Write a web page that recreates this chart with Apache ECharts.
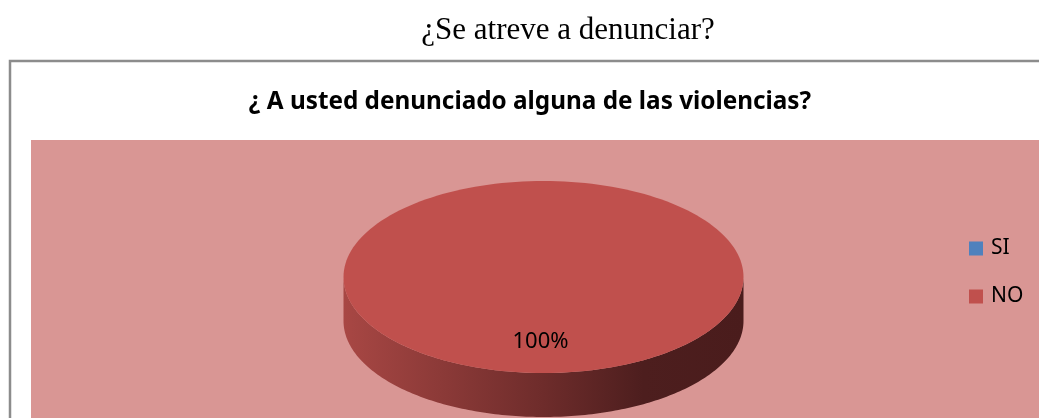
<!DOCTYPE html>
<html>
<head>
<meta charset="utf-8">
<script src="https://cdn.jsdelivr.net/npm/echarts@6/dist/echarts.min.js"></script>
<style>
  html, body { margin: 0; padding: 0; background: #fff; }
  #main { width: 1039px; height: 418px; }
</style>
</head>
<body>
<div id="main"></div>
<script>
var categories = ['SI', 'NO'];
var values = [0, 100];
var colors = ['#4F81BD', '#C0504D'];

var total = values.reduce(function (a, b) { return a + b; }, 0);

// pie geometry (screen space)
var cx = 543.5, cy = 277, rx = 200, ry = 96, depth = 44;

function pt(a, dy) {
  return [cx + rx * Math.sin(a), cy - ry * Math.cos(a) + (dy || 0)];
}

function renderSlice(idx) {
  return function (params, api) {
    var v = values[idx];
    if (!v) return null;
    var before = 0;
    for (var i = 0; i < idx; i++) before += values[i];
    var a0 = before / total * Math.PI * 2;
    var a1 = (before + v) / total * Math.PI * 2;
    var steps = 180, k;

    var top = [];
    if (a1 - a0 < Math.PI * 2 - 1e-6) top.push([cx, cy]);
    for (k = 0; k <= steps; k++) top.push(pt(a0 + (a1 - a0) * k / steps));

    // visible front band: angles between 90 and 270 deg
    var s = Math.max(a0, Math.PI / 2), e = Math.min(a1, Math.PI * 1.5);
    var children = [];
    if (e > s) {
      var band = [];
      for (k = 0; k <= steps; k++) band.push(pt(s + (e - s) * k / steps));
      for (k = steps; k >= 0; k--) band.push(pt(s + (e - s) * k / steps, depth));
      children.push({
        type: 'polygon',
        shape: { points: band },
        style: {
          fill: new echarts.graphic.LinearGradient(cx - rx, 0, cx + rx, 0, [
            { offset: 0, color: '#A84744' },
            { offset: 0.5, color: '#6E2C2B' },
            { offset: 0.75, color: '#4D1E1E' },
            { offset: 1, color: '#4A1C1C' }
          ], true)
        }
      });
    }
    children.push({
      type: 'polygon',
      shape: { points: top },
      style: { fill: colors[idx] }
    });
    var mid = (a0 + a1) / 2;
    var lp = [cx + rx * 0.67 * Math.sin(mid), cy - ry * 0.67 * Math.cos(mid)];
    children.push({
      type: 'text',
      style: {
        text: Math.round(v / total * 100) + '%',
        x: lp[0] - 3, y: lp[1],
        align: 'center', verticalAlign: 'middle',
        font: '22px "Noto Sans"', fill: '#000'
      }
    });
    return { type: 'group', children: children };
  };
}

var chart = echarts.init(document.getElementById('main'), null, { renderer: 'canvas' });

var option = {
  animation: false,
  color: colors,
  graphic: [
    { type: 'rect', shape: { x: 10, y: 61, width: 1040, height: 400 },
      style: { fill: '#fff', stroke: '#8C8C8C', lineWidth: 2.5 }, z: -10 },
    { type: 'rect', shape: { x: 31, y: 140, width: 1010, height: 290 },
      style: { fill: '#D99694' }, z: -9 },
    { type: 'text', style: { text: '¿Se atreve a denunciar?', x: 568, y: 31,
      align: 'center', verticalAlign: 'middle', font: '31px "Liberation Serif"', fill: '#000' } },
    { type: 'text', style: { text: '¿ A usted denunciado alguna de las violencias?', x: 530, y: 102,
      align: 'center', verticalAlign: 'middle', font: 'bold 24.3px "Noto Sans"', fill: '#000' } }
  ],
  legend: {
    data: categories,
    orient: 'vertical',
    left: 964, top: 233,
    icon: 'rect',
    itemWidth: 14, itemHeight: 14,
    itemGap: 27,
    textStyle: { fontSize: 21, color: '#000', fontFamily: 'Noto Sans', padding: [0, 0, 0, 3] }
  },
  series: categories.map(function (name, i) {
    return {
      name: name,
      type: 'custom',
      coordinateSystem: 'none',
      itemStyle: { color: colors[i] },
      data: [values[i]],
      renderItem: renderSlice(i)
    };
  })
};

chart.setOption(option);
</script>
</body>
</html>
